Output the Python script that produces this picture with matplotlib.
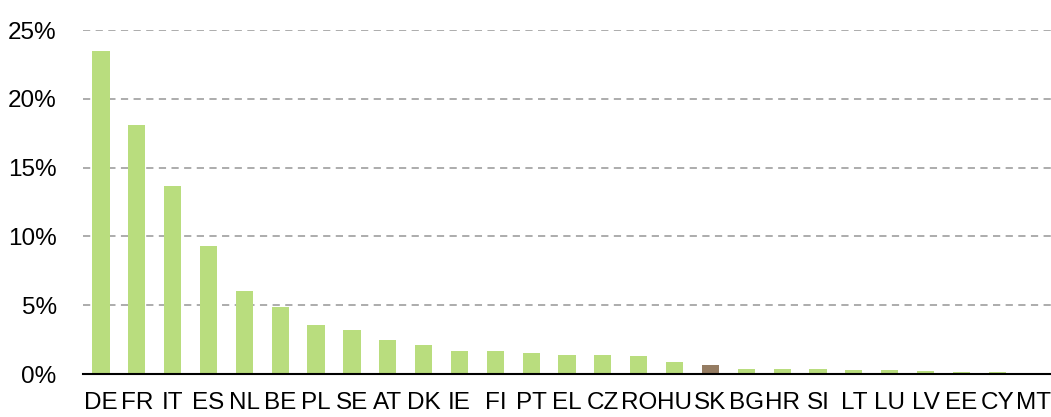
import matplotlib
matplotlib.use("Agg")
import matplotlib.pyplot as plt
from matplotlib.ticker import PercentFormatter

countries = ["DE", "FR", "IT", "ES", "NL", "BE", "PL", "SE", "AT", "DK", "IE", "FI", "PT", "EL",
             "CZ", "RO", "HU", "SK", "BG", "HR", "SI", "LT", "LU", "LV", "EE", "CY", "MT"]
shares = [23.5, 18.1, 13.7, 9.3, 6.0, 4.9, 3.6, 3.2, 2.5, 2.1, 1.7, 1.7, 1.5, 1.4,
          1.4, 1.3, 0.9, 0.65, 0.36, 0.36, 0.34, 0.33, 0.29, 0.22, 0.17, 0.17, 0.02]
highlight = "SK"

green = "#B9DD7E"
brown = "#957C62"

plt.rcParams["font.family"] = ["Liberation Sans", "DejaVu Sans"]

fig = plt.figure(figsize=(10.51, 4.17), dpi=100)
ax = fig.add_axes([0.079, 0.103, 0.921, 0.825])

colors = [brown if c == highlight else green for c in countries]
ax.bar(range(len(countries)), shares, width=0.48, color=colors, zorder=3)

ax.set_xlim(-0.5, len(countries) - 0.5)
ax.set_ylim(0, 25)
ax.set_yticks([0, 5, 10, 15, 20, 25])
ax.yaxis.set_major_formatter(PercentFormatter(decimals=0))
ax.set_xticks(range(len(countries)))
ax.set_xticklabels(countries)

ax.grid(axis="y", color="#A6A6A6", linestyle=(0, (4, 3)), linewidth=1.3, zorder=0)
for s in ["top", "right", "left"]:
    ax.spines[s].set_visible(False)
ax.spines["bottom"].set_color("black")
ax.spines["bottom"].set_linewidth(1.5)
ax.spines["bottom"].set_zorder(4)

ax.tick_params(axis="both", length=0, labelsize=17.5)
ax.tick_params(axis="y", pad=19)
ax.tick_params(axis="x", pad=13)

fig.savefig("out.png", dpi=100)
